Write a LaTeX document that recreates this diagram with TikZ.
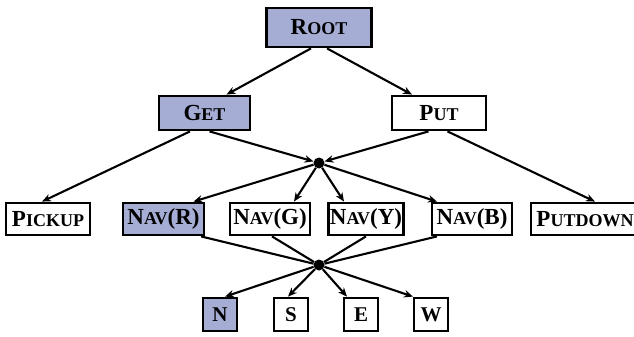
\documentclass[tikz,border=0pt]{standalone}
\usepackage{fontspec}
\setmainfont{Liberation Serif}
\usetikzlibrary{arrows.meta}
\definecolor{taskBlue}{RGB}{166,173,213}
% faked small caps: big first letter, smaller rest
\newcommand{\bigCap}[1]{{\fontsize{23}{25}\selectfont #1}}
\newcommand{\smallCap}[1]{{\fontsize{18}{20}\selectfont #1}}
\newcommand{\capWord}[2]{\bigCap{#1}\smallCap{#2}}

\begin{document}
\begin{tikzpicture}[
		x=1pt, y=-1pt,
		link/.style={line width=2.1pt, -{Stealth[length=9pt,width=7.5pt]}},
		bareLink/.style={line width=2.1pt},
		]
		\tikzset{
			taskNode/.style={draw, line width=2.8pt, font=\bfseries, inner xsep=1pt, inner ysep=0pt, minimum height=32pt},
			activeNode/.style={taskNode, fill=taskBlue},
			dirNode/.style={taskNode, font=\bfseries\fontsize{21}{23}\selectfont, minimum width=34pt, minimum height=33pt},
			hubNode/.style={circle, fill=black, inner sep=0pt, minimum size=11pt},
		}
		\useasboundingbox (0,0) rectangle (634,337);
		
		% top levels
		\node[activeNode, minimum width=105pt, minimum height=39pt] (root) at (319,27.5) {\capWord{R}{OOT}};
		\node[activeNode, minimum width=91pt, minimum height=34pt] (get) at (204.5,113) {\capWord{G}{ET}};
		\node[taskNode, minimum width=94pt, minimum height=34pt] (put) at (439,113) {\capWord{P}{UT}};
		\node[hubNode] (hub1) at (319,163) {};
		
		% primitive and navigation row
		\node[taskNode, minimum width=84pt] (pickup) at (48,219) {\capWord{P}{ICKUP}};
		\node[activeNode, minimum width=81pt] (navR) at (163.5,219) {\capWord{N}{AV}\bigCap{(R)}};
		\node[taskNode, minimum width=80pt] (navG) at (270,219) {\capWord{N}{AV}\bigCap{(G)}};
		\node[taskNode, minimum width=75pt] (navY) at (366,219) {\capWord{N}{AV}\bigCap{(Y)}};
		\node[taskNode, minimum width=80pt] (navB) at (472,219) {\capWord{N}{AV}\bigCap{(B)}};
		\node[taskNode, minimum width=108pt] (putdown) at (585,219) {\capWord{P}{UTDOWN}};
		\node[hubNode] (hub2) at (319,265) {};
		
		% moves
		\node[dirNode, fill=taskBlue] (dirN) at (220,314.5) {N};
		\node[dirNode] (dirS) at (291,314.5) {S};
		\node[dirNode] (dirE) at (361,314.5) {E};
		\node[dirNode] (dirW) at (431,314.5) {W};
		
		\draw[link] ([xshift=-8pt]root.south) -- ([xshift=22pt]get.north);
		\draw[link] ([xshift=8pt]root.south) -- ([xshift=-27pt]put.north);
		
		\draw[link] ([xshift=-14.5pt]get.south) -- ([xshift=-6pt]pickup.north);
		\draw[link] ([xshift=5pt]get.south) -- (hub1);
		\draw[link] ([xshift=-10.5pt]put.south) -- (hub1);
		\draw[link] ([xshift=8.5pt]put.south) -- ([xshift=10pt]putdown.north);
		
		\draw[link] (hub1) -- ([xshift=30pt]navR.north);
		\draw[link] (hub1) -- ([xshift=24pt]navG.north);
		\draw[link] (hub1) -- ([xshift=-22pt]navY.north);
		\draw[link] (hub1) -- ([xshift=-35pt]navB.north);
		
		\draw[bareLink] ([xshift=37.5pt]navR.south) -- (hub2);
		\draw[bareLink] ([xshift=2pt]navG.south) -- (hub2);
		\draw[bareLink] ([xshift=0pt]navY.south) -- (hub2);
		\draw[bareLink] ([xshift=-35pt]navB.south) -- (hub2);
		
		\draw[link] (hub2) -- ([xshift=5pt]dirN.north);
		\draw[link] (hub2) -- ([xshift=-3pt]dirS.north);
		\draw[link] (hub2) -- ([xshift=-14pt]dirE.north);
		\draw[link] (hub2) -- ([xshift=-18pt]dirW.north);
	\end{tikzpicture}
\end{document}
